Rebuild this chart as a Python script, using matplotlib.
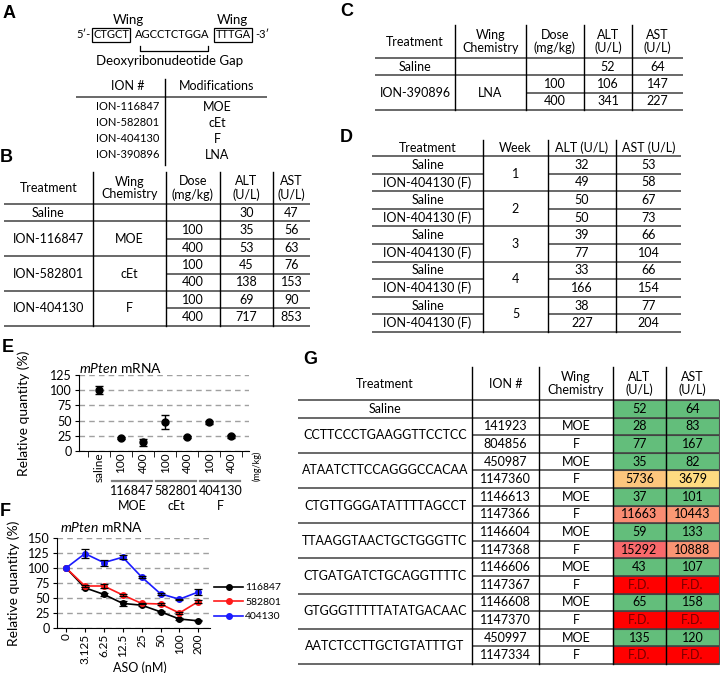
import numpy as np
import matplotlib
matplotlib.use('Agg')
import matplotlib.pyplot as plt
from matplotlib.patches import Rectangle
from matplotlib.colors import LinearSegmentedColormap, Normalize
from matplotlib.transforms import blended_transform_factory

plt.rcParams['font.family'] = ['Lato', 'DejaVu Sans']
plt.rcParams['mathtext.fontset'] = 'custom'
plt.rcParams['mathtext.it'] = 'Lato:italic'
plt.rcParams['mathtext.rm'] = 'Lato'

# ---- data
a_ions = ['ION-116847', 'ION-582801', 'ION-404130', 'ION-390896']
a_mods = ['MOE', 'cEt', 'F', 'LNA']

b_treat = ['Saline', 'ION-116847', 'ION-582801', 'ION-404130']
b_chem = ['', 'MOE', 'cEt', 'F']
b_dose = [[''], ['100', '400'], ['100', '400'], ['100', '400']]
b_alt = [[30], [35, 53], [45, 138], [69, 717]]
b_ast = [[47], [56, 63], [76, 153], [90, 853]]

c_treat = ['Saline', 'ION-390896']
c_chem = ['', 'LNA']
c_dose = [[''], ['100', '400']]
c_alt = [[52], [106, 341]]
c_ast = [[64], [147, 227]]

d_weeks = ['1', '2', '3', '4', '5']
d_treat = ['Saline', 'ION-404130 (F)']
d_alt = [[32, 49], [50, 50], [39, 77], [33, 166], [38, 227]]
d_ast = [[53, 58], [67, 73], [66, 104], [66, 154], [77, 204]]

e_labels = ['saline', '100', '400', '100', '400', '100', '400']
e_groups = ['116847', '582801', '404130']
e_chem = ['MOE', 'cEt', 'F']
e_mean = [100, 21, 14, 48, 23, 47, 24]
e_err = [7, 2, 5, 12, 2, 2, 2]

f_conc = ['0', '3.125', '6.25', '12.5', '25', '50', '100', '200']
f_names = ['116847', '582801', '404130']
f_vals = [[100, 67, 56, 41, 38, 27, 15, 12],
          [100, 70, 70, 55, 41, 40, 25, 44],
          [100, 124, 109, 118, 85, 57, 48, 60]]
f_errs = [[0, 2, 2, 4, 2, 1, 1, 1],
          [0, 2, 3, 2, 1, 1, 1, 2],
          [0, 7, 5, 3, 2, 2, 1, 5]]
f_colors = ['black', '#FF1A1A', '#1A1AFF']

g_saline = [52, 64]
g_seq = ['CCTTCCCTGAAGGTTCCTCC', 'ATAATCTTCCAGGGCCACAA', 'CTGTTGGGATATTTTAGCCT',
         'TTAAGGTAACTGCTGGGTTC', 'CTGATGATCTGCAGGTTTTC', 'GTGGGTTTTTATATGACAAC',
         'AATCTCCTTGCTGTATTTGT']
g_ion = [['141923', '804856'], ['450987', '1147360'], ['1146613', '1147366'],
         ['1146604', '1147368'], ['1146606', '1147367'], ['1146608', '1147370'],
         ['450997', '1147334']]
g_chem = ['MOE', 'F']
g_alt = [[28, 77], [35, 5736], [37, 11663], [59, 15292], [43, None], [65, None], [135, None]]
g_ast = [[83, 167], [82, 3679], [101, 10443], [133, 10888], [107, None], [158, None], [120, None]]

W, H = 720, 673
fig = plt.figure(figsize=(W / 100, H / 100), dpi=100)
ax0 = fig.add_axes([0, 0, 1, 1])
ax0.set_xlim(0, W)
ax0.set_ylim(H, 0)
ax0.axis('off')

FS = 9
hl = dict(color='#404040', lw=1.1, solid_capstyle='butt')


def px_axes(l, t, r, b):
    return fig.add_axes([l / W, 1 - b / H, (r - l) / W, (b - t) / H])


def table(ax, cols, top, hdr, rh, headers, groups, merged, fills=None, tcol=None):
    n = len(cols) - 1
    cx = [(cols[i] + cols[i + 1]) / 2 for i in range(n)]
    for i, h in enumerate(headers):
        ax.text(cx[i], (top + hdr) / 2, h, ha='center', va='center', fontsize=FS, linespacing=1.05)
    y = hdr
    k = 0
    ax.plot([cols[0], cols[-1]], [y, y], **hl)
    for g in groups:
        y0 = y
        for r, row in enumerate(g):
            for i in range(n):
                if i in merged:
                    continue
                if fills and (k, i) in fills:
                    ax.add_patch(Rectangle((cols[i], y), cols[i + 1] - cols[i], rh,
                                           fc=fills[(k, i)], ec='#505050', lw=0.8, zorder=1))
                c = tcol.get((k, i), 'k') if tcol else 'k'
                ax.text(cx[i], y + rh / 2, row[i], ha='center', va='center', fontsize=FS, color=c)
            y += rh
            k += 1
            if r < len(g) - 1:
                for i in range(n):
                    if i not in merged:
                        ax.plot([cols[i], cols[i + 1]], [y, y], **hl)
        for i in merged:
            ax.text(cx[i], (y0 + y) / 2, g[0][i], ha='center', va='center', fontsize=FS)
        ax.plot([cols[0], cols[-1]], [y, y], **hl)
    for x in cols[1:-1]:
        ax.plot([x, x], [top, y], color='k', lw=1)


# ---- panel letters
for s, x, y in [('A', 9, 14), ('B', 6, 157), ('C', 347, 12), ('D', 346, 138),
                ('E', 8, 347), ('F', 5, 512), ('G', 310, 359)]:
    ax0.text(x, y, s, fontsize=13, fontweight='bold', family='Liberation Sans', ha='center', va='center')

# ---- A
ax0.text(128, 20, 'Wing', fontsize=9.5, ha='center', va='center')
ax0.text(232, 20, 'Wing', fontsize=9.5, ha='center', va='center')
box = dict(boxstyle='square,pad=0.12', fc='none', ec='k', lw=0.9)
ax0.text(91, 35, '5\u2032-', fontsize=8, ha='right', va='center')
ax0.text(111, 35, 'CTGCT', fontsize=8, ha='center', va='center', bbox=box)
ax0.text(172, 35, 'AGCCTCTGGA', fontsize=8, ha='center', va='center')
ax0.text(233, 35, 'TTTGA', fontsize=8, ha='center', va='center', bbox=box)
ax0.text(255, 35, '-3\u2032', fontsize=8, ha='left', va='center')
ax0.plot([140, 140, 208, 208], [46, 51, 51, 46], color='k', lw=0.9)
ax0.text(170, 61, 'Deoxyribonudeotide Gap', fontsize=9.5, ha='center', va='center')
ax0.text(128, 86, 'ION #', fontsize=FS, ha='center', va='center')
ax0.text(217, 86, 'Modifications', fontsize=FS, ha='center', va='center')
ax0.plot([76, 267], [97, 97], **hl)
ax0.plot([165, 165], [79, 165], color='k', lw=1)
for i, (ion, m) in enumerate(zip(a_ions, a_mods)):
    ax0.text(128, 107 + 16 * i, ion, fontsize=8, ha='center', va='center')
    ax0.text(217, 107 + 16 * i, m, fontsize=FS, ha='center', va='center')

# ---- B
groups_b = []
for t, c, ds, al, asv in zip(b_treat, b_chem, b_dose, b_alt, b_ast):
    groups_b.append([[t, c, d, str(a), str(s)] for d, a, s in zip(ds, al, asv)])
table(ax0, [4, 93, 166, 220, 273, 310], 172, 204, 17.4,
      ['Treatment', 'Wing\nChemistry', 'Dose\n(mg/kg)', 'ALT\n(U/L)', 'AST\n(U/L)'],
      groups_b, {0, 1})

# ---- C
groups_c = []
for t, c, ds, al, asv in zip(c_treat, c_chem, c_dose, c_alt, c_ast):
    groups_c.append([[t, c, d, str(a), str(s)] for d, a, s in zip(ds, al, asv)])
table(ax0, [375, 455, 526, 584, 632, 683], 25, 58, 17.3,
      ['Treatment', 'Wing\nChemistry', 'Dose\n(mg/kg)', 'ALT\n(U/L)', 'AST\n(U/L)'],
      groups_c, {0, 1})

# ---- D
groups_d = []
for w, al, asv in zip(d_weeks, d_alt, d_ast):
    groups_d.append([[t, w, str(a), str(s)] for t, a, s in zip(d_treat, al, asv)])
table(ax0, [372, 483, 548, 616, 681], 140, 156, 17.6,
      ['Treatment', 'Week', 'ALT (U/L)', 'AST (U/L)'], groups_d, {1})

# ---- G
vmax = max(v for row in g_alt + g_ast for v in row if v is not None)
cmap = LinearSegmentedColormap.from_list('xl', [(0, '#63BE7B'), (150 / vmax, '#63BE7B'),
                                                (2000 / vmax, '#FFEB84'), (1, '#F8696B')])
norm = Normalize(0, vmax)
groups_g = [[['Saline', '', '', str(g_saline[0]), str(g_saline[1])]]]
fills, tcol = {}, {}
fills[(0, 3)] = cmap(norm(g_saline[0]))
fills[(0, 4)] = cmap(norm(g_saline[1]))
k = 1
for seq, ions, al, asv in zip(g_seq, g_ion, g_alt, g_ast):
    rows = []
    for ion, ch, a, s in zip(ions, g_chem, al, asv):
        rows.append([seq, ion, ch, 'F.D.' if a is None else str(a), 'F.D.' if s is None else str(s)])
        for col, v in ((3, a), (4, s)):
            if v is None:
                fills[(k, col)] = '#FF0000'
                tcol[(k, col)] = '#7A0000'
            else:
                fills[(k, col)] = cmap(norm(v))
        k += 1
    groups_g.append(rows)
table(ax0, [298, 472, 539, 613, 666, 719], 367, 400, 17.6,
      ['Treatment', 'ION #', 'Wing\nChemistry', 'ALT\n(U/L)', 'AST\n(U/L)'],
      groups_g, {0}, fills, tcol)

# ---- E
axE = px_axes(79, 375, 249, 451)
xe = np.arange(len(e_mean))
axE.errorbar(xe, e_mean, yerr=e_err, fmt='o', color='k', ms=5, capsize=3, elinewidth=1, capthick=1)
axE.set_xlim(-0.9, 6.8)
axE.set_ylim(0, 125)
axE.set_yticks(range(0, 126, 25))
axE.set_xticks(xe)
axE.set_xticklabels(e_labels, rotation=90, fontsize=8.5)
axE.set_xticks(np.arange(-0.5, 7, 1), minor=True)
axE.tick_params(axis='x', which='major', length=0, pad=1)
axE.tick_params(axis='x', which='minor', length=4)
axE.tick_params(axis='y', labelsize=9, length=3, pad=2)
axE.grid(axis='y', color='#A0A0A0', linestyle=(0, (4, 3)), lw=1)
for sp in ['top', 'right']:
    axE.spines[sp].set_visible(False)
axE.set_ylabel('Relative quantity (%)', fontsize=10)
axE.yaxis.set_label_coords(-0.29, 0.5)
axE.text(0.0, 1.09, r'$\it{mPten}$ mRNA', transform=axE.transAxes, fontsize=10, va='center')
tr = blended_transform_factory(axE.transData, axE.transAxes)
for i, (g, c) in enumerate(zip(e_groups, e_chem)):
    xc = 1.5 + 2 * i
    axE.plot([xc - 0.9, xc + 0.9], [-0.395, -0.395], transform=tr, color='#808080', lw=1.6, clip_on=False)
    axE.text(xc, -0.52, g, transform=tr, ha='center', va='center', fontsize=9)
    axE.text(xc, -0.72, c, transform=tr, ha='center', va='center', fontsize=9)
axE.text(7.15, -0.2, '(mg/kg)', transform=tr, rotation=90, ha='center', va='center', fontsize=6.5)

# ---- F
axF = px_axes(57, 538, 210, 628)
xf = np.arange(len(f_conc))
for vals, errs, col, name in zip(f_vals, f_errs, f_colors, f_names):
    axF.plot(xf, vals, '-o', color=col, ms=4, lw=1.2, label=name)
    idx = [i for i, e in enumerate(errs) if e > 0]
    axF.errorbar(xf[idx], np.array(vals)[idx], yerr=np.array(errs)[idx], fmt='none',
                 ecolor='k', capsize=3, elinewidth=0.9, capthick=0.9)
axF.set_xlim(-0.48, 7.62)
axF.set_ylim(0, 150)
axF.set_yticks(range(0, 151, 25))
axF.set_xticks(xf)
axF.set_xticklabels(f_conc, rotation=90, fontsize=8.5)
axF.tick_params(axis='x', length=3, pad=1)
axF.tick_params(axis='y', labelsize=9, length=3, pad=2)
axF.grid(axis='y', color='#A0A0A0', linestyle=(0, (4, 3)), lw=1)
for sp in ['top', 'right']:
    axF.spines[sp].set_visible(False)
axF.set_ylabel('Relative quantity (%)', fontsize=10)
axF.yaxis.set_label_coords(-0.24, 0.5)
axF.set_xlabel('ASO (nM)', fontsize=9)
axF.xaxis.set_label_coords(0.54, -0.37)
axF.text(0.02, 1.12, r'$\it{mPten}$ mRNA', transform=axF.transAxes, fontsize=10, va='center')
axF.legend(loc='upper left', bbox_to_anchor=(214 / W, 1 - 583 / H), bbox_transform=fig.transFigure,
           frameon=False, fontsize=7.5, handlelength=2.8, handletextpad=0.2, labelspacing=0.5,
           borderpad=0, borderaxespad=0)

fig.savefig('out.png', dpi=100)
